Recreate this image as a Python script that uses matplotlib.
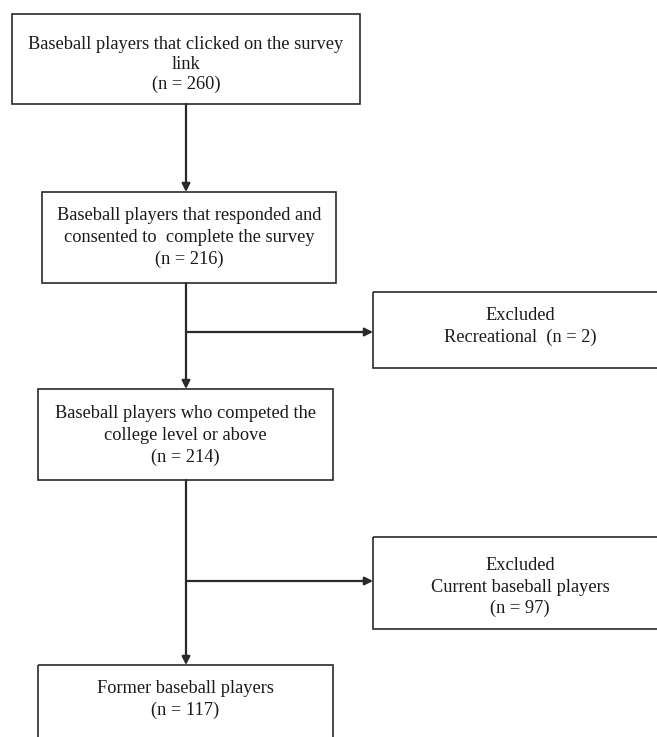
import matplotlib.pyplot as plt
from matplotlib.patches import Rectangle

# flowchart content
main_labels = [
    ["Baseball players that clicked on the survey", "link"],
    ["Baseball players that responded and", "consented to  complete the survey"],
    ["Baseball players who competed the", "college level or above"],
    ["Former baseball players"],
]
main_n = [260, 216, 214, 117]

excl_labels = [
    ["Excluded", "Recreational  (n = 2)"],
    ["Excluded", "Current baseball players", "(n = 97)"],
]

# layout in pixels (x0, y0, x1, y1), image coords with y down
main_boxes = [(12, 14, 360, 104), (42, 192, 336, 283), (38, 389, 333, 480), (38, 665, 333, 760)]
main_base_y = [49, 220, 418, 693]   # baseline of first text line
main_step = [20.0, 22, 22, 22]
excl_boxes = [(373, 292, 667, 368), (373, 537, 667, 629)]
excl_base_y = [320, 570]
excl_arrow_y = [332, 581]
spine_x = 186
edge = "#2a2a2a"

fig = plt.figure(figsize=(6.57, 7.37), dpi=100)
ax = fig.add_axes([0, 0, 1, 1])
ax.set_xlim(0, 657)
ax.set_ylim(737, 0)
ax.axis("off")

font = dict(family="Liberation Serif", fontsize=13.2, color="#1a1a1a", ha="center", va="baseline")

def draw_box(b, lines, y0, step, cx=None):
    x0, top, x1, bot = b
    ax.add_patch(Rectangle((x0, top), x1 - x0, bot - top, fill=False, ec=edge, lw=1.2))
    if cx is None:
        cx = (x0 + x1) / 2
    for i, s in enumerate(lines):
        ax.text(cx, y0 + i * step, s, **font)

for b, lab, n, ty, st in zip(main_boxes, main_labels, main_n, main_base_y, main_step):
    draw_box(b, lab + ["(n = %d)" % n], ty, st)

for b, lab, ty in zip(excl_boxes, excl_labels, excl_base_y):
    draw_box(b, lab, ty, 21.5, cx=520)

arrow = dict(arrowstyle="-|>", mutation_scale=12, lw=1.6, color=edge, shrinkA=0, shrinkB=0)

# vertical connectors between main boxes
for upper, lower in zip(main_boxes[:-1], main_boxes[1:]):
    ax.annotate("", xy=(spine_x, lower[1]), xytext=(spine_x, upper[3]), arrowprops=arrow)

# side arrows to excluded boxes
for b, ay in zip(excl_boxes, excl_arrow_y):
    ax.annotate("", xy=(b[0], ay), xytext=(spine_x, ay), arrowprops=arrow)

fig.savefig("out.png", dpi=100)
